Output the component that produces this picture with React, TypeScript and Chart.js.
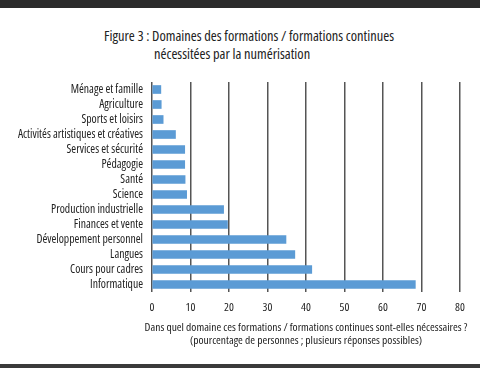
import React, { useEffect, useRef } from "react";
import { Chart, registerables } from "chart.js";

Chart.register(...registerables);

const categories = [
  "Ménage et famille",
  "Agriculture",
  "Sports et loisirs",
  "Activités artistiques et créatives",
  "Services et sécurité",
  "Pédagogie",
  "Santé",
  "Science",
  "Production industrielle",
  "Finances et vente",
  "Développement personnel",
  "Langues",
  "Cours pour cadres",
  "Informatique",
];

const values = [2.3, 2.4, 2.9, 6.1, 8.5, 8.5, 8.6, 9.0, 18.6, 19.6, 34.8, 37.1, 41.5, 68.4];

const xMin = 0;
const xMax = 80;
const xStep = 10;

const titleLine1 = "Figure 3 : Domaines des formations / formations continues";
const titleLine2 = "nécessitées par la numérisation";
const axisTitle1 = "Dans quel domaine ces formations / formations continues sont-elles nécessaires ?";
const axisTitle2 = "(pourcentage de personnes ; plusieurs réponses possibles)";

const FAMILY = '"Open Sans", sans-serif';
const STRETCH = "condensed";

export default function App() {
  const ref = useRef<HTMLCanvasElement | null>(null);

  useEffect(() => {
    if (!ref.current) return;
    const chart = new Chart(ref.current, {
      type: "bar",
      data: {
        labels: categories,
        datasets: [
          {
            data: values,
            backgroundColor: "#5b9bd5",
            borderWidth: 0,
            barThickness: 8,
          },
        ],
      },
      options: {
        indexAxis: "y",
        animation: false,
        responsive: false,
        maintainAspectRatio: false,
        layout: { padding: { top: 82, right: 20, bottom: 0, left: 0 } },
        plugins: {
          legend: { display: false },
          tooltip: { enabled: false },
          title: { display: false },
        },
        scales: {
          x: {
            min: xMin,
            max: xMax,
            ticks: {
              stepSize: xStep,
              color: "#222",
              font: { family: FAMILY, size: 11.5, weight: STRETCH as any },
              padding: 8.5,
            },
            grid: {
              display: true,
              drawTicks: false,
              color: "#555",
              lineWidth: 1.5,
            },
            border: { display: false },
            afterFit: (scale: any) => {
              scale.height = 76;
            },
          },
          y: {
            ticks: {
              color: "#222",
              font: { family: FAMILY, size: 11.7, weight: STRETCH as any },
              padding: 9,
              autoSkip: false,
            },
            grid: { display: false, drawTicks: false },
            border: { display: false },
            afterFit: (scale: any) => {
              scale.width = 152;
            },
          },
        },
      },
    });
    return () => chart.destroy();
  }, []);

  const textBase: React.CSSProperties = {
    position: "absolute",
    fontFamily: FAMILY,
    fontStretch: STRETCH,
    color: "#222",
    whiteSpace: "nowrap",
  };

  return (
    <div
      style={{
        position: "absolute",
        left: 0,
        top: 0,
        width: 480,
        height: 368,
        background: "#fff",
        overflow: "hidden",
      }}
    >
      <div style={{ position: "absolute", left: 0, top: 0, width: 480, height: 8, background: "#2b2b2b" }} />
      <div style={{ position: "absolute", left: 0, top: 364, width: 480, height: 4, background: "#3a3a3a" }} />
      <div style={{ ...textBase, left: 104, top: 27, fontSize: 14.4, lineHeight: "18px" }}>{titleLine1}</div>
      <div style={{ ...textBase, left: 154, top: 45, fontSize: 14.4, lineHeight: "18px" }}>{titleLine2}</div>
      <canvas
        ref={ref}
        width={480}
        height={368}
        style={{ position: "absolute", left: 0, top: 0, width: 480, height: 368 }}
      />
      <div
        style={{
          ...textBase,
          left: 106,
          width: 400,
          textAlign: "center",
          top: 320,
          fontSize: 11.5,
          lineHeight: "13.4px",
        }}
      >
        <div>{axisTitle1}</div>
        <div>{axisTitle2}</div>
      </div>
    </div>
  );
}
